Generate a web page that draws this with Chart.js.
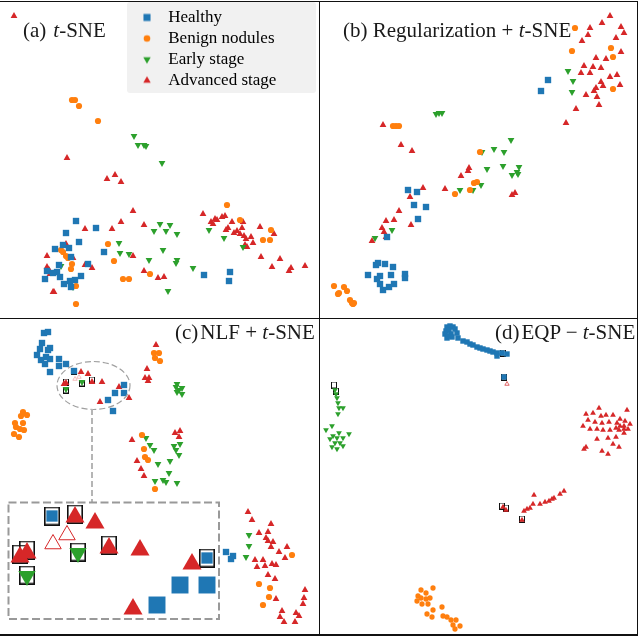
<!DOCTYPE html>
<html>
<head>
<meta charset="utf-8">
<script src="https://cdn.jsdelivr.net/npm/chart.js@4"></script>
<style>
  html, body { margin: 0; padding: 0; background: #fff; }
  #page { position: relative; width: 640px; height: 636px; overflow: hidden; font-family: "Liberation Serif", serif; color: #1a1a1a; }
  #page canvas { position: absolute; }
  .holder { position: absolute; }
  .title { position: absolute; font-size: 21px; line-height: 24px; white-space: pre; }
  .title b { font-weight: normal; display: inline-block; }
  .rule { position: absolute; background: #111; }
  #legendBack { position: absolute; left: 127px; top: 2px; width: 189px; height: 91px; background: #f1f1f1; border-radius: 3px; }
</style>
</head>
<body>
<div id="page">
  <div class="holder" id="boxA" style="left:0;top:0;width:320px;height:320px"><canvas id="panelA"></canvas></div>
  <div class="holder" id="boxB" style="left:320px;top:0;width:320px;height:320px"><canvas id="panelB"></canvas></div>
  <div class="holder" id="boxC" style="left:0;top:320px;width:320px;height:316px"><canvas id="panelC"></canvas></div>
  <div class="holder" id="boxD" style="left:320px;top:320px;width:320px;height:316px"><canvas id="panelD"></canvas></div>
  <div class="holder" id="boxI" style="left:8px;top:502px;width:212px;height:118px"><canvas id="inset"></canvas></div>
  <div id="legendBack"></div>
  <div class="holder" id="boxL" style="left:127px;top:2px;width:400px;height:130px"><canvas id="legendChart"></canvas></div>
  <div class="rule" style="left:0;top:1px;width:638px;height:1px"></div>
  <div class="rule" style="left:0;top:634px;width:638px;height:2px"></div>
  <div class="rule" style="left:0;top:318px;width:638px;height:1px"></div>
  <div class="rule" style="left:319px;top:1px;width:1px;height:634px"></div>
  <div class="rule" style="left:637px;top:1px;width:1px;height:634px"></div>
  <div class="title" style="left:23px;top:18px">(a)<b style="width:7px"></b><i>t</i>-SNE</div>
  <div class="title" style="left:343px;top:18px">(b) Regularization + <i>t</i>-SNE</div>
  <div class="title" style="left:175px;top:320px">(c)<b style="width:2px"></b>NLF + <i>t</i>-SNE</div>
  <div class="title" style="left:495px;top:320px">(d)<b style="width:2px"></b>EQP − <i>t</i>-SNE</div>
</div>
<script>
const classNames = ['Healthy', 'Benign nodules', 'Early stage', 'Advanced stage'];
const blue = '#1f77b4', orange = '#ff7f0e', green = '#2ca02c', red = '#d62728';

// points, in each panel's own units (y runs down)
const aHealthy = [[76,221],[96,228],[66,233],[79,242],[63,245],[69,248],[55,249],[104,252],[71,257],[88,264],[59,265],[47,271],[57,272],[53,273],[60,277],[81,276],[45,279],[75,280],[70,281],[64,284],[71,287],[204,275],[230,272],[229,281]];
const aBenign = [[72,100],[75,100],[79,106],[98,121],[227,205],[240,220],[271,230],[263,240],[270,240],[108,244],[114,261],[61,250],[63,252],[66,256],[68,258],[72,264],[71,269],[150,274],[123,279],[129,279],[76,286],[76,304]];
const aEarly = [[134,137],[138,146],[144,146],[146,147],[162,164],[160,225],[170,226],[154,232],[166,232],[177,235],[119,244],[163,251],[120,254],[129,255],[149,261],[177,261],[176,264],[193,269],[168,292],[61,267],[73,288],[209,231],[224,239],[243,248]];
const aAdvanced = [[14,15],[67,157],[107,178],[115,174],[121,181],[133,210],[121,221],[144,224],[112,228],[85,228],[66,243],[47,255],[73,257],[133,255],[85,264],[92,267],[47,266],[49,269],[50,273],[53,291],[54,291],[144,270],[158,277],[164,276],[203,213],[211,221],[213,223],[215,218],[217,219],[222,216],[225,215],[232,221],[243,221],[228,227],[226,229],[242,227],[237,230],[234,232],[240,233],[244,235],[246,238],[251,236],[253,242],[245,244],[247,246],[260,226],[274,233],[261,256],[280,258],[272,266],[291,267],[289,270],[305,265]];

const bHealthy = [[228,80],[221,91],[88,190],[97,192],[94,205],[106,207],[98,219],[67,237],[58,263],[56,265],[65,264],[73,267],[48,275],[71,275],[85,274],[85,278],[60,276],[57,279],[60,284],[74,284],[69,287],[63,290]];
const bBenign = [[255,28],[252,51],[291,48],[293,57],[293,89],[73,126],[76,126],[79,126],[160,152],[157,182],[154,183],[150,190],[135,194],[14,286],[24,287],[27,291],[19,293],[18,294],[30,300],[32,303],[34,303],[33,304]];
const bEarly = [[248,72],[253,82],[252,93],[116,115],[119,114],[122,114],[191,141],[174,150],[184,153],[162,153],[167,170],[183,167],[199,168],[197,173],[192,176],[198,175],[161,186],[140,191],[153,191],[72,231],[55,239]];
const bAdvanced = [[290,15],[282,22],[270,27],[301,26],[304,32],[268,34],[296,37],[262,40],[301,51],[276,57],[286,58],[264,65],[273,66],[281,67],[261,72],[270,72],[297,74],[290,76],[281,81],[283,85],[300,84],[276,87],[274,90],[266,94],[277,96],[279,104],[256,108],[246,122],[63,124],[81,144],[92,150],[149,167],[148,170],[141,175],[103,187],[125,188],[90,196],[79,210],[66,220],[74,219],[91,224],[62,227],[64,231],[66,236],[52,240],[192,194],[195,192]];

const cHealthy = [[44,13],[48,12],[42,23],[40,29],[50,28],[48,30],[37,35],[46,37],[50,39],[41,40],[59,39],[45,44],[59,46],[66,44],[50,52],[74,51],[124,65],[115,73],[124,73],[108,80],[113,91],[226,232],[233,236],[231,239]];
const cBenign = [[23,92],[27,95],[21,96],[15,103],[23,103],[16,107],[20,109],[24,110],[14,114],[19,117],[154,33],[159,33],[155,38],[160,41],[142,115],[144,129],[145,137],[148,140],[155,169],[292,235],[259,264],[270,268],[269,277],[263,285]];
const cEarly = [[82,63],[66,70],[177,65],[176,68],[182,69],[179,71],[182,75],[177,73],[146,119],[150,126],[154,131],[174,127],[180,125],[176,131],[179,136],[170,142],[158,145],[169,154],[155,162],[163,161],[166,163],[177,164],[249,216],[249,227],[246,238]];
const cAdvanced = [[81,51],[88,53],[92,61],[102,61],[119,66],[100,81],[129,77],[64,63],[66,62],[156,24],[147,48],[145,57],[149,57],[148,60],[175,112],[180,110],[179,116],[132,119],[137,140],[141,148],[144,155],[248,191],[252,199],[271,203],[259,212],[268,211],[266,217],[268,220],[273,221],[271,226],[287,226],[279,231],[285,237],[255,239],[263,239],[257,246],[265,245],[272,243],[276,244],[268,254],[275,258],[305,269],[276,278],[304,277],[303,283],[282,290],[296,292],[299,295],[280,296],[284,301],[295,301]];
const cHollow = [[75,59],[79,57]];
const cBoxes = [[74,51],[66,62],[66,70],[82,63],[92,60]];

const dHealthy = [[127,7],[130,6],[133,7],[126,11],[129,10],[135,9],[125,14],[131,14],[137,13],[127,18],[132,17],[138,18],[128,16],[143,21],[147,22],[150,24],[153,25],[157,27],[160,28],[163,29],[167,30],[170,31],[173,32],[177,33],[177,36],[182,33],[187,34],[184,57]];
const dBenign = [[113,268],[101,270],[106,273],[98,276],[101,278],[106,279],[110,278],[97,281],[102,284],[108,284],[113,290],[122,287],[107,294],[112,297],[123,296],[127,297],[131,300],[136,300],[133,305],[140,306],[135,309]];
const dEarly = [[15,71],[16,75],[17,79],[18,84],[19,89],[23,89],[18,95],[6,111],[12,107],[29,115],[19,114],[13,117],[17,119],[23,119],[10,120],[15,124],[20,124],[12,128],[17,130],[23,127]];
const dAdvanced = [[266,93],[273,92],[279,87],[307,89],[281,95],[286,94],[293,94],[268,99],[275,101],[282,102],[289,101],[300,98],[305,100],[297,102],[310,103],[263,105],[270,108],[277,108],[283,109],[290,109],[296,107],[300,105],[304,105],[299,109],[304,108],[308,108],[304,112],[277,118],[288,117],[296,116],[293,123],[299,126],[266,126],[264,128],[282,130],[288,133],[244,170],[240,173],[234,177],[232,178],[229,180],[225,181],[220,183],[214,174],[213,183],[210,187],[207,188],[204,190],[202,199],[186,189],[183,186]];
const dHollow = [[187,64]];
const dBoxes = [[14,65],[16,71],[183,33],[184,57],[182,186],[186,188],[202,199]];

// zoomed-in detail of panel (c)
const insetHealthy = [[172,83],[199,83],[149,103]];
const insetBoxedHealthy = [[44,14],[199,56]];
const insetEarly = [[70,51],[19,74]];
const insetAdvanced = [[67,15],[87,21],[101,46],[132,48],[184,62],[125,107],[12,55],[19,51]];
const insetHollow = [[45,42],[59,33]];
const insetBoxes = [[44,14],[67,12],[101,43],[199,56],[70,50],[19,48],[12,52],[19,73]];

function marks(pts, style, color, r, rot) {
  return { data: pts, pointStyle: style, backgroundColor: color, borderColor: color, borderWidth: 0,
           pointRadius: r, pointHoverRadius: r, pointRotation: rot || 0, clip: false };
}
function hollow(pts, color, r, w) {
  return { data: pts, pointStyle: 'triangle', backgroundColor: '#fff', borderColor: color, borderWidth: w,
           pointRadius: r, pointHoverRadius: r, clip: false };
}
// the black frames are a bit taller than wide, so they need their own sprite
function frameSprite(w, h, lw) {
  const c = document.createElement('canvas');
  c.width = w; c.height = h;
  const g = c.getContext('2d');
  g.strokeStyle = '#111';
  g.lineWidth = lw;
  g.strokeRect(lw / 2, lw / 2, w - lw, h - lw);
  return c;
}
function boxes(pts, w, h, lw) {
  return { data: pts, pointStyle: frameSprite(w, h, lw), pointRadius: 3, clip: false };
}
// a triangle's box sits off its anchor by a px, the points were read from the box centre
const nudge = (pts, dy) => pts.map(p => [p[0], p[1] + dy]);
function four(h, b, e, a, k) {
  return [marks(h, 'rect', blue, 4.5 * k), marks(b, 'circle', orange, 3.1 * k),
          marks(nudge(e, -1), 'triangle', green, 3.9 * k, 180), marks(nudge(a, 1), 'triangle', red, 3.9 * k)];
}

function plot(id, width, height, datasets, extra) {
  return new Chart(document.getElementById(id), {
    type: 'scatter',
    data: { datasets: datasets },
    options: {
      responsive: true, maintainAspectRatio: false, animation: false,
      layout: { padding: 0, autoPadding: false },
      events: [],
      plugins: { legend: { display: false }, tooltip: { enabled: false } },
      scales: {
        x: { type: 'linear', display: false, min: 0, max: width },
        y: { type: 'linear', display: false, min: 0, max: height, reverse: true }
      }
    },
    plugins: extra || []
  });
}

// dashed ellipse, connector and inset frame of panel (c)
const calloutPlugin = {
  id: 'callout',
  afterDatasetsDraw(chart) {
    const { ctx, scales: { x, y } } = chart;
    ctx.save();
    ctx.strokeStyle = '#a0a0a0';
    ctx.lineWidth = 1.2;
    ctx.setLineDash([6, 3]);
    ctx.beginPath();
    ctx.ellipse(x.getPixelForValue(93.5), y.getPixelForValue(65.5), 36.5, 24, 0, 0, Math.PI * 2);
    ctx.stroke();
    ctx.lineWidth = 2;
    ctx.strokeStyle = '#b5b5b5';
    ctx.beginPath();
    ctx.moveTo(x.getPixelForValue(92), y.getPixelForValue(89));
    ctx.lineTo(x.getPixelForValue(92), y.getPixelForValue(182));
    ctx.stroke();
    ctx.strokeStyle = '#999';
    ctx.setLineDash([8, 3.5]);
    ctx.strokeRect(x.getPixelForValue(8.5), y.getPixelForValue(182.5), 210.5, 116.5);
    ctx.restore();
  }
};

plot('panelA', 320, 320, four(aHealthy, aBenign, aEarly, aAdvanced, 1));
plot('panelB', 320, 320, four(bHealthy, bBenign, bEarly, bAdvanced, 1));
plot('panelC', 320, 316, four(cHealthy, cBenign, cEarly, cAdvanced, 1).concat(
  [hollow(cHollow, '#f0a0a0', 2.5, 0.7), boxes(cBoxes, 6, 7, 1)]), [calloutPlugin]);
plot('panelD', 320, 316, four(dHealthy, dBenign, dEarly, dAdvanced, 0.85).concat(
  [hollow(dHollow, red, 2.5, 0.7), boxes(dBoxes, 6, 7, 1)]));
plot('inset', 212, 118, [
  marks(insetHealthy, 'rect', blue, 12),
  marks(insetBoxedHealthy, 'rect', blue, 8),
  marks(insetEarly, 'triangle', green, 10, 180),
  marks(insetAdvanced, 'triangle', red, 11),
  hollow(insetHollow, red, 9.5, 1),
  boxes(insetBoxes, 16, 19, 1.6)
]);

// legend icons, each with its own size
function legendIcon(style, color, r, rot) {
  const c = document.createElement('canvas');
  c.width = 16; c.height = 16;
  const g = c.getContext('2d');
  g.fillStyle = color;
  Chart.helpers.drawPoint(g, { pointStyle: style, radius: r, borderWidth: 0, rotation: rot }, 8, 8);
  return c;
}
const legendIcons = [legendIcon('rect', blue, 5, 0), legendIcon('circle', orange, 3.3, 0),
                     legendIcon('triangle', green, 4.3, 180), legendIcon('triangle', red, 4.3, 0)];

// legend lives on its own little chart over panel (a)
new Chart(document.getElementById('legendChart'), {
  type: 'scatter',
  data: { datasets: classNames.map(name => ({ label: name, data: [] })) },
  options: {
    responsive: true, maintainAspectRatio: false, animation: false, events: [],
    layout: { padding: { left: 7.5, top: 3 } },
    scales: { x: { display: false }, y: { display: false } },
    plugins: {
      tooltip: { enabled: false },
      legend: {
        position: 'left', align: 'start',
        labels: {
          usePointStyle: true, boxHeight: 7, padding: 4, color: '#1a1a1a',
          font: { family: '"Liberation Serif"', size: 17 },
          generateLabels: () => classNames.map((name, i) => ({
            text: ' ' + name, pointStyle: legendIcons[i], lineWidth: 0, datasetIndex: i
          }))
        }
      }
    }
  }
});
</script>
</body>
</html>
